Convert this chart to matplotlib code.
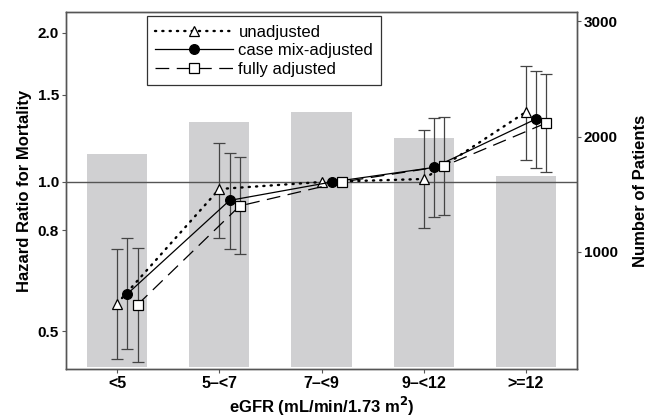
import matplotlib.pyplot as plt
import numpy as np

plt.rcParams['font.family'] = ['Liberation Sans', 'DejaVu Sans']

# categories and patient counts
categories = ["<5", "5\u2013<7", "7\u2013<9", "9\u2013<12", ">=12"]
patients = [1850, 2125, 2210, 1990, 1660]

# hazard ratios (point, lower, upper)
hr_unadj = [0.569, 0.968, 1.0, 1.014, 1.384]
lo_unadj = [0.440, 0.770, 1.0, 0.809, 1.106]
hi_unadj = [0.733, 1.200, 1.0, 1.270, 1.716]

hr_case = [0.595, 0.918, 1.0, 1.070, 1.340]
lo_case = [0.460, 0.733, 1.0, 0.851, 1.069]
hi_case = [0.770, 1.146, 1.0, 1.348, 1.676]

hr_full = [0.566, 0.895, 1.0, 1.077, 1.315]
lo_full = [0.434, 0.716, 1.0, 0.857, 1.046]
hi_full = [0.735, 1.123, 1.0, 1.354, 1.650]

fig = plt.figure(figsize=(6.49, 4.20), dpi=100)
ax = fig.add_axes([0.1017, 0.1214, 0.7874, 0.85])
ax2 = ax.twinx()
ax.set_zorder(ax2.get_zorder() + 1)
ax.patch.set_visible(False)

x = np.arange(len(categories))

# bars: number of patients
ax2.bar(x, patients, width=0.59, color='#d0d0d2', edgecolor='none')
ax2.set_ylim(-15, 3080)
ax2.set_yticks([1000, 2000, 3000])
ax2.set_yticklabels(["1000", "2000", "3000"], fontsize=11, fontweight='bold')
ax2.set_ylabel("Number of Patients", fontsize=12, fontweight='bold', labelpad=11)

# reference line
ax.axhline(1.0, color='#555555', lw=1, zorder=1)

series = [
    (hr_unadj, lo_unadj, hi_unadj, 0.0, dict(linestyle=(0, (0.5, 2.6)), lw=1.7, dash_capstyle='round',
                                             marker='^', markersize=7, markerfacecolor='white'), "unadjusted"),
    (hr_case, lo_case, hi_case, 0.1, dict(linestyle='-', lw=0.9, marker='o', markersize=7,
                                          markerfacecolor='black'), "case mix-adjusted"),
    (hr_full, lo_full, hi_full, 0.2, dict(linestyle=(0, (11, 6)), lw=0.9, marker='s', markersize=6.5,
                                          markerfacecolor='white'), "fully adjusted"),
]

for hr, lo, hi, off, style, label in series:
    xs = x + off
    hr = np.array(hr)
    yerr = [hr - np.array(lo), np.array(hi) - hr]
    mask = np.array(lo) != np.array(hi)
    ax.errorbar(xs[mask], hr[mask], yerr=[yerr[0][mask], yerr[1][mask]], fmt='none',
                ecolor='#444444', elinewidth=0.9, capsize=4, capthick=0.9, zorder=2)
    ax.plot(xs, hr, color='black', markeredgecolor='black', markeredgewidth=0.9,
            label=label, zorder=3, **style)

ax.set_yscale('log')
ax.set_ylim(0.42, 2.2)
ax.set_yticks([0.5, 0.8, 1.0, 1.5, 2.0])
ax.set_yticklabels(["0.5", "0.8", "1.0", "1.5", "2.0"], fontsize=11, fontweight='bold')
ax.yaxis.set_minor_locator(plt.NullLocator())
ax.set_xlim(-0.5, 4.5)
ax.set_xticks(x)
ax.set_xticklabels(categories, fontsize=11.5, fontweight='bold')
ax.set_ylabel("Hazard Ratio for Mortality", fontsize=12, fontweight='bold', labelpad=4)
ax.set_xlabel("eGFR (mL/min/1.73 m$^\\mathbf{2}$)", fontsize=12, fontweight='bold', labelpad=3)

for a in (ax, ax2):
    for s in a.spines.values():
        s.set_color('#555555')
        s.set_linewidth(1)
    a.tick_params(length=3, color='#555555', pad=2)

leg = ax.legend(loc='upper left', bbox_to_anchor=(0.158, 0.988), fontsize=12, frameon=True,
                fancybox=False, edgecolor='black', handlelength=4.7, borderpad=0.5,
                labelspacing=0.22, handletextpad=0.3, borderaxespad=0)
leg.get_frame().set_linewidth(0.9)

fig.savefig("out.png", dpi=100)
